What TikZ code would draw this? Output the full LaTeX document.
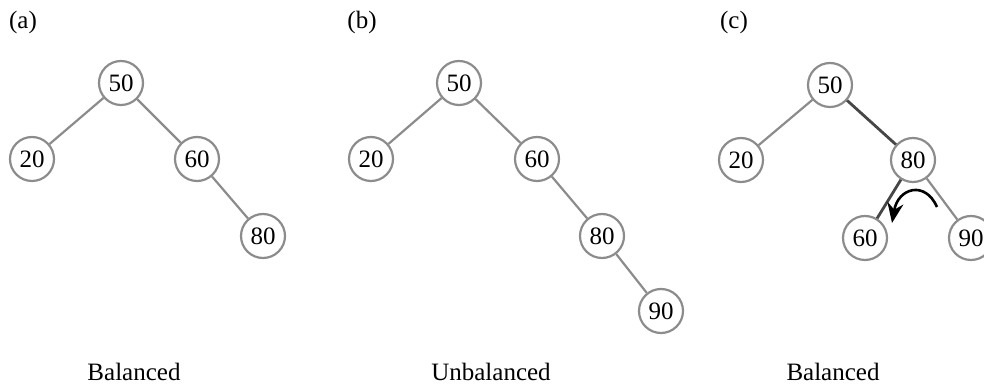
\documentclass[tikz,border=0pt]{standalone}
\usepackage{fontspec}
\setmainfont{Liberation Serif}
\usepackage{tikz}
\usetikzlibrary{arrows.meta}

\tikzset{
  key/.style={circle, draw=gray!90, line width=1.1pt, minimum size=22pt, inner sep=0pt, fill=white, font=\fontsize{12.5}{15}\selectfont},
  branch/.style={draw=gray!90, line width=1.1pt},
  moved/.style={draw=gray!55!black, line width=1.4pt},
  caption/.style={font=\fontsize{12.5}{15}\selectfont}
}

\begin{document}
\begin{tikzpicture}[x=0.5pt, y=0.5pt, yscale=-1]
\useasboundingbox (0,0) rectangle (984,389);
\clip (0,0) rectangle (984,389);
\node[caption] (ta) at (23,22) {(a)};
\node[key] (a50) at (121,83) {50};
\node[key] (a20) at (32,159) {20};
\node[key] (a60) at (197,159) {60};
\node[key] (a80) at (263,236) {80};
\draw[branch] (a50) -- (a20);
\draw[branch] (a50) -- (a60);
\draw[branch] (a60) -- (a80);
\node[caption] (la) at (134,372) {Balanced};
\node[caption] (tb) at (362,22) {(b)};
\node[key] (b50) at (459,83) {50};
\node[key] (b20) at (371,159) {20};
\node[key] (b60) at (537,159) {60};
\node[key] (b80) at (602,236) {80};
\node[key] (b90) at (661,311) {90};
\draw[branch] (b50) -- (b20);
\draw[branch] (b50) -- (b60);
\draw[branch] (b60) -- (b80);
\draw[branch] (b80) -- (b90);
\node[caption] (lb) at (491,372) {Unbalanced};
\node[caption] (tc) at (734,22) {(c)};
\node[key] (c50) at (830,85) {50};
\node[key] (c20) at (741,160) {20};
\node[key] (c80) at (913,160) {80};
\node[key] (c60) at (865,238) {60};
\node[key] (c90) at (971,238) {90};
\draw[branch] (c50) -- (c20);
\draw[moved] (c50) -- (c80);
\draw[moved] (c80) -- (c60);
\draw[branch] (c80) -- (c90);
\coordinate (rs) at (937,207);
\coordinate (re) at (892,223);
\draw[line width=1.3pt, -{Stealth[length=10pt, width=8pt]}] (rs) .. controls (925,180) and (898,188) .. (re);
\node[caption] (lc) at (833,372) {Balanced};
\end{tikzpicture}
\end{document}
